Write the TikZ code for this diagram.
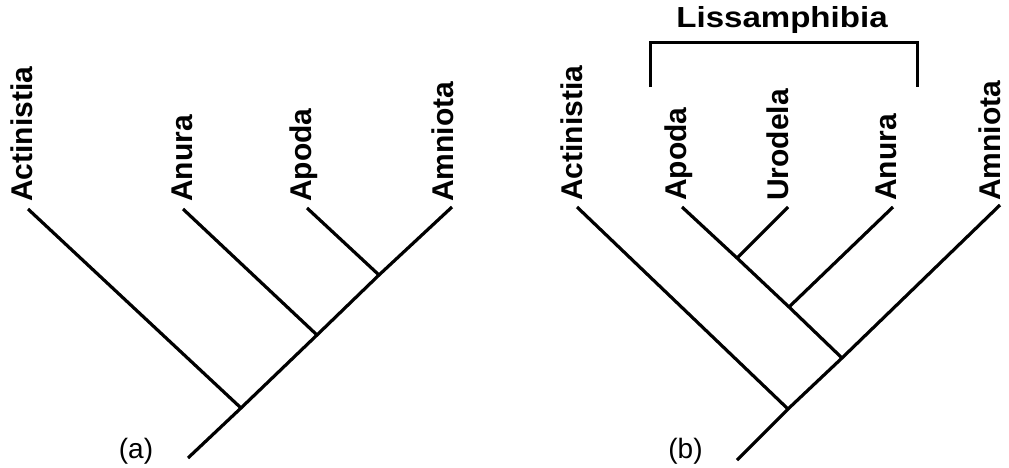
\documentclass[tikz,border=0pt]{standalone}
\usepackage{fontspec}
\setmainfont{Liberation Sans}
\begin{document}
\begin{tikzpicture}[x=1pt,y=-1pt,
  branch/.style={line width=3.2pt, line cap=butt},
  taxon/.style={rotate=90, anchor=base west, inner sep=0pt,
    font=\fontsize{30}{36}\selectfont\bfseries},
  panel/.style={anchor=base, inner sep=0pt, font=\fontsize{28}{34}\selectfont}]
\useasboundingbox (0,0) rectangle (1009,467);

% ---------- panel (a) ----------
\coordinate (aroot) at (188,458);
\coordinate (an1) at (241,408);
\coordinate (an2) at (317,335);
\coordinate (an3) at (379,275);
\coordinate (aAct) at (28,209);
\coordinate (aAnu) at (183,209);
\coordinate (aApo) at (307,208);
\coordinate (aAmn) at (452,207);

\draw[branch] (aroot) -- (an1) -- (an2) -- (an3) -- (aAmn);
\draw[branch] (an1) -- (aAct);
\draw[branch] (an2) -- (aAnu);
\draw[branch] (an3) -- (aApo);

\node[taxon] (laAct) at (32,202) {Actinistia};
\node[taxon] (laAnu) at (192,202) {Anura};
\node[taxon] (laApo) at (311,202) {Apoda};
\node[taxon] (laAmn) at (453,202) {Amniota};
\node[panel] (la) at (136,458) {(a)};

% ---------- panel (b) ----------
\coordinate (broot) at (737,460);
\coordinate (bn1) at (788,409);
\coordinate (bn2) at (842,358);
\coordinate (bn3) at (789,307);
\coordinate (bn4) at (737,258);
\coordinate (bAct) at (577,207);
\coordinate (bApo) at (682,207);
\coordinate (bUro) at (788,207);
\coordinate (bAnu) at (893,207);
\coordinate (bAmn) at (1000,205);

\draw[branch] (broot) -- (bn1) -- (bn2) -- (bAmn);
\draw[branch] (bn1) -- (bAct);
\draw[branch] (bn2) -- (bn3) -- (bn4) -- (bApo);
\draw[branch] (bn3) -- (bAnu);
\draw[branch] (bn4) -- (bUro);

\node[taxon] (lbAct) at (582,201) {Actinistia};
\node[taxon] (lbApo) at (686,201) {Apoda};
\node[taxon] (lbUro) at (788,201) {Urodela};
\node[taxon] (lbAnu) at (896,201) {Anura};
\node[taxon] (lbAmn) at (1000,201) {Amniota};
\node[panel] (lb) at (685.5,458) {(b)};

% bracket
\coordinate (brL) at (650,87);
\coordinate (brLt) at (650,42);
\coordinate (brRt) at (917,42);
\coordinate (brR) at (917,87);
\draw[line width=3pt, line cap=butt, line join=miter] (brL) -- (brLt) -- (brRt) -- (brR);
\node[anchor=base, inner sep=0pt, font=\fontsize{29}{34}\selectfont\bfseries] (liss) at (782,27) {\scalebox{1.14}[1]{Lissamphibia}};
\end{tikzpicture}
\end{document}
